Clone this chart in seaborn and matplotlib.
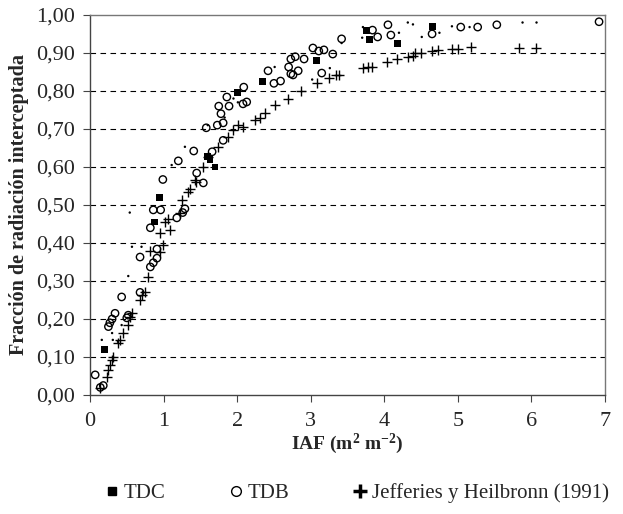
import matplotlib
matplotlib.use("Agg")
import matplotlib.pyplot as plt
from matplotlib.lines import Line2D
from matplotlib.ticker import FuncFormatter, MultipleLocator
import seaborn as sns
import pandas as pd

# ---- data ----
tdc_x = [0.20, 0.88, 0.94, 1.60, 1.63, 1.70, 2.00, 2.34, 3.08, 3.76, 3.80, 4.18, 4.66]
tdc_y = [0.12, 0.455, 0.52, 0.627, 0.62, 0.60, 0.795, 0.824, 0.88, 0.96, 0.935, 0.925, 0.97]

tdb_x = [0.07, 0.14, 0.18, 0.25, 0.27, 0.30, 0.34, 0.43, 0.52, 0.50, 0.68, 0.68,
         0.82, 0.86, 0.96, 0.82, 0.86, 0.91, 0.91, 1.18, 1.26, 1.29, 1.54, 0.99,
         1.20, 1.41, 1.45, 1.66, 1.58, 1.73, 1.81, 1.78, 1.75, 1.86, 1.89, 2.08,
         2.13, 1.81, 2.09, 2.50, 2.59, 2.42, 2.70, 2.73, 2.76, 2.83, 2.73, 2.79,
         2.91, 3.03, 3.11, 3.18, 3.15, 3.30, 3.42, 3.84, 3.91, 4.05, 4.09, 4.65,
         5.04, 5.27, 5.53, 6.92]
tdb_y = [0.053, 0.02, 0.025, 0.18, 0.19, 0.20, 0.215, 0.258, 0.21, 0.203, 0.27, 0.363,
         0.44, 0.487, 0.487, 0.337, 0.348, 0.36, 0.384, 0.466, 0.48, 0.49, 0.558, 0.567,
         0.616, 0.642, 0.584, 0.64, 0.703, 0.71, 0.716, 0.74, 0.76, 0.784, 0.76, 0.766,
         0.771, 0.67, 0.81, 0.82, 0.826, 0.853, 0.863, 0.845, 0.842, 0.853, 0.884, 0.89,
         0.884, 0.913, 0.905, 0.908, 0.847, 0.897, 0.937, 0.96, 0.942, 0.974, 0.947, 0.95,
         0.968, 0.968, 0.974, 0.982]

jh_x = [0.14, 0.23, 0.25, 0.27, 0.30, 0.31, 0.38, 0.41, 0.45, 0.52, 0.54, 0.57,
        0.68, 0.71, 0.75, 0.79, 0.82, 0.95, 0.99, 0.95, 1.09, 1.02, 1.06, 1.22,
        1.25, 1.33, 1.44, 1.36, 1.43, 1.54, 1.60, 1.74, 1.88, 1.94, 2.01, 2.08,
        2.24, 2.31, 2.38, 2.51, 2.69, 2.87, 3.08, 3.25, 3.35, 3.38, 3.71, 3.78,
        3.83, 4.04, 4.18, 4.32, 4.39, 4.42, 4.50, 4.65, 4.73, 4.92, 5.00, 5.18,
        5.83, 6.06]
jh_y = [0.018, 0.047, 0.066, 0.079, 0.092, 0.10, 0.137, 0.145, 0.163, 0.184, 0.205, 0.216,
        0.25, 0.263, 0.271, 0.31, 0.379, 0.376, 0.395, 0.426, 0.434, 0.455, 0.463, 0.48,
        0.513, 0.534, 0.56, 0.542, 0.566, 0.60, 0.626, 0.653, 0.679, 0.697, 0.71, 0.705,
        0.724, 0.73, 0.742, 0.763, 0.78, 0.80, 0.82, 0.834, 0.842, 0.842, 0.86, 0.863,
        0.863, 0.876, 0.884, 0.89, 0.893, 0.90, 0.90, 0.905, 0.908, 0.911, 0.911, 0.916,
        0.913, 0.913]

dot_x = [0.16, 0.31, 0.38, 0.30, 0.43, 0.52, 0.57, 0.54, 0.70, 1.29, 1.11, 1.60,
         1.83, 1.95, 2.01, 2.34, 2.51, 3.02, 3.26, 3.42, 3.70, 3.71, 4.20, 4.32,
         4.39, 4.51, 4.75, 4.92, 5.16, 5.88, 6.07]
dot_y = [0.145, 0.145, 0.14, 0.163, 0.184, 0.313, 0.39, 0.48, 0.39, 0.653, 0.605, 0.71,
         0.73, 0.78, 0.77, 0.82, 0.863, 0.83, 0.86, 0.926, 0.94, 0.968, 0.953, 0.98,
         0.975, 0.942, 0.953, 0.97, 0.968, 0.98, 0.98]

x_label = r"IAF (m$^\mathbf{2}$ m$^\mathbf{-2}$)"
y_label = "Fracción de radiación interceptada"
legend_labels = ["TDC", "TDB", "Jefferies y Heilbronn (1991)"]

# ---- style ----
sns.set_theme(style="white")
plt.rcParams["font.family"] = ["Liberation Serif", "DejaVu Serif"]
plt.rcParams["mathtext.fontset"] = "custom"
plt.rcParams["mathtext.rm"] = "Liberation Serif"
plt.rcParams["mathtext.bf"] = "Liberation Serif:bold"
plt.rcParams["mathtext.it"] = "Liberation Serif:italic"

fig = plt.figure(figsize=(6.23, 5.14), dpi=100)
ax = fig.add_axes([0.1445, 0.2315, 0.8265, 0.7395])

df_tdc = pd.DataFrame({"x": tdc_x, "y": tdc_y})
df_tdb = pd.DataFrame({"x": tdb_x, "y": tdb_y})
df_jh = pd.DataFrame({"x": jh_x, "y": jh_y})
df_dot = pd.DataFrame({"x": dot_x, "y": dot_y})

sns.scatterplot(data=df_dot, x="x", y="y", ax=ax, marker="o", s=3,
                color="black", edgecolor="none", zorder=3)
sns.scatterplot(data=df_jh, x="x", y="y", ax=ax, marker="+", s=55,
                color="black", linewidth=1.0, zorder=3)
sns.scatterplot(data=df_tdb, x="x", y="y", ax=ax, marker="o", s=28,
                facecolor="none", edgecolor="black", linewidth=1.0, zorder=4)
sns.scatterplot(data=df_tdc, x="x", y="y", ax=ax, marker="s", s=24,
                color="black", edgecolor="none", zorder=5)

ax.set_xlim(0, 7)
ax.set_ylim(0, 1.0)
ax.xaxis.set_major_locator(MultipleLocator(1))
ax.yaxis.set_major_locator(MultipleLocator(0.1))
ax.yaxis.set_major_formatter(FuncFormatter(lambda v, p: f"{v:.2f}".replace(".", ",")))

for yv in [0.1, 0.2, 0.3, 0.4, 0.5, 0.6, 0.7, 0.8, 0.9]:
    ax.axhline(yv, color="black", lw=0.8, linestyle=(0, (5, 4)), zorder=1)

for side in ["left", "bottom"]:
    ax.spines[side].set_color("#444444")
    ax.spines[side].set_linewidth(1.0)
for side in ["top", "right"]:
    ax.spines[side].set_color("#777777")
    ax.spines[side].set_linewidth(1.0)

ax.tick_params(axis="both", direction="out", length=5, width=0.8, color="#444444",
               labelsize=16, bottom=True, left=True)
ax.tick_params(axis="x", pad=7)
ax.tick_params(axis="y", pad=6)
ax.set_xlabel(x_label, fontsize=14, fontweight="bold", labelpad=1)
ax.set_ylabel(y_label, fontsize=14.5, fontweight="bold", labelpad=5)

handles = [
    Line2D([], [], marker="s", linestyle="none", color="black", markersize=6),
    Line2D([], [], marker="o", linestyle="none", markerfacecolor="none",
           markeredgecolor="black", markersize=7, markeredgewidth=1.0),
    Line2D([], [], marker="+", linestyle="none", color="black", markersize=10,
           markeredgewidth=2.5),
]
fig.legend(handles, legend_labels, loc="center", bbox_to_anchor=(0.572, 0.04), ncol=3,
           frameon=False, fontsize=15, handletextpad=0.15, columnspacing=3.0,
           handlelength=0.8)

fig.savefig("out.png", dpi=100)
